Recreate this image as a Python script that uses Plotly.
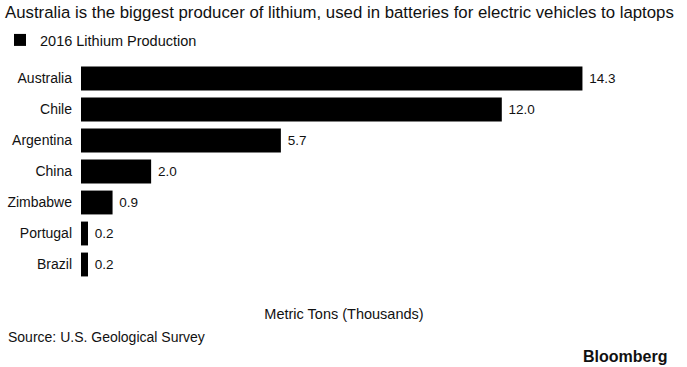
import plotly.graph_objects as go

countries = ["Australia", "Chile", "Argentina", "China", "Zimbabwe", "Portugal", "Brazil"]
production = [14.3, 12.0, 5.7, 2.0, 0.9, 0.2, 0.2]
labels = ["14.3", "12.0", "5.7", "2.0", "0.9", "0.2", "0.2"]

W, H = 687, 367
FONT = "Liberation Sans, Arial, Helvetica, sans-serif"
ML, MR, MT, MB = 81, 80, 63, 87

fig = go.Figure()
fig.add_trace(go.Bar(
    x=production, y=countries, orientation="h",
    marker=dict(color="#000000", line=dict(width=0)),
    text=labels, texttemplate=" %{text}", textposition="outside", cliponaxis=False,
    textfont=dict(size=13.5, color="#111111", family=FONT),
    name="2016 Lithium Production", showlegend=True,
))

fig.update_layout(
    width=W, height=H,
    margin=dict(l=ML, r=MR, t=MT, b=MB, autoexpand=False),
    paper_bgcolor="white", plot_bgcolor="white",
    font=dict(family=FONT, color="#111111"),
    bargap=0.23,
    title=dict(text="Australia is the biggest producer of lithium, used in batteries for electric vehicles to laptops",
               x=5 / W, xanchor="left", xref="container", y=1 - 12 / H, yanchor="middle", yref="container",
               font=dict(size=16.8, color="#111111", family=FONT)),
    legend=dict(orientation="h", x=-6 / W, xanchor="left", xref="container",
                y=1 - 40 / H, yanchor="middle", yref="container",
                font=dict(size=14.5, color="#111111"), itemwidth=30,
                bgcolor="rgba(0,0,0,0)"),
    xaxis=dict(range=[0, 15], showgrid=False, zeroline=False, showticklabels=False,
               showline=False, ticks="",
               title=dict(text="Metric Tons (Thousands)", font=dict(size=14.5, color="#111111"), standoff=28)),
    yaxis=dict(autorange="reversed", showgrid=False, zeroline=False, showline=False,
               ticks="", ticklabelstandoff=8,
               tickfont=dict(size=14, color="#111111")),
)

plot_h = H - MT - MB
plot_w = W - ML - MR
def px_to_paper_x(px):
    return (px - ML) / plot_w
def px_to_paper_y(py):
    return (H - MB - py) / plot_h

fig.add_annotation(text="Source: U.S. Geological Survey", xref="paper", yref="paper",
                   x=px_to_paper_x(6), y=px_to_paper_y(337), xanchor="left", yanchor="middle",
                   showarrow=False, font=dict(size=14, color="#111111"))
fig.add_annotation(text="<b>Bloomberg</b>", xref="paper", yref="paper",
                   x=px_to_paper_x(669), y=px_to_paper_y(356), xanchor="right", yanchor="middle",
                   showarrow=False, font=dict(size=16, color="#111111"))

fig.write_html("out.html", config={"displayModeBar": False},
               post_script="document.body.style.margin='0';document.body.style.overflow='hidden';")
